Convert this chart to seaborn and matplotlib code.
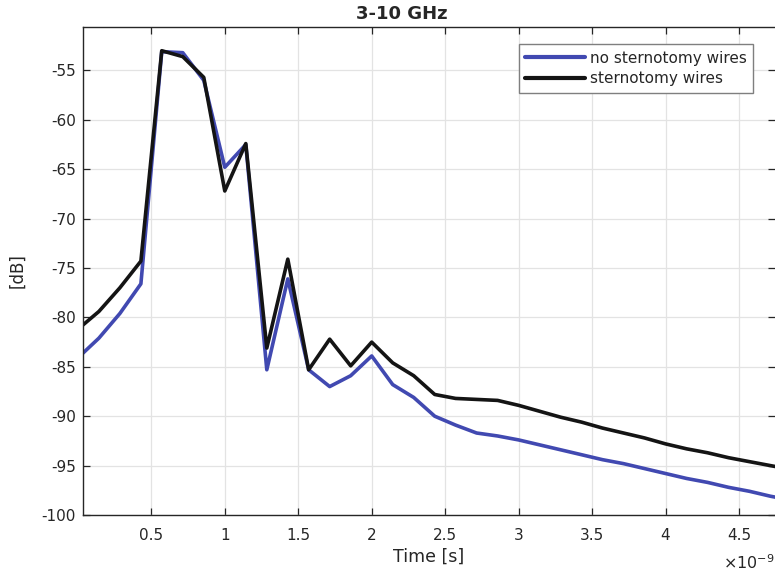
import matplotlib
matplotlib.use("Agg")
import matplotlib.pyplot as plt
import seaborn as sns
import pandas as pd
from matplotlib.ticker import FuncFormatter

# ---- data (time in ns; axis shows x10^-9 s) ----
time_ns = [0.000, 0.143, 0.286, 0.429, 0.571, 0.714, 0.857, 1.000, 1.143, 1.286,
           1.429, 1.571, 1.714, 1.857, 2.000, 2.143, 2.286, 2.429, 2.571, 2.714,
           2.857, 3.000, 3.143, 3.286, 3.429, 3.571, 3.714, 3.857, 4.000, 4.143,
           4.286, 4.429, 4.571, 4.714, 4.857]
no_wires = [-84.1, -82.1, -79.6, -76.6, -53.1, -53.2, -56.0, -64.8, -62.5, -85.3,
            -76.1, -85.3, -87.0, -85.9, -83.9, -86.8, -88.1, -90.0, -90.9, -91.7,
            -92.0, -92.4, -92.9, -93.4, -93.9, -94.4, -94.8, -95.3, -95.8, -96.3,
            -96.7, -97.2, -97.6, -98.1, -98.5]
wires = [-81.2, -79.4, -77.0, -74.3, -53.0, -53.6, -55.7, -67.2, -62.4, -83.1,
         -74.1, -85.3, -82.2, -84.9, -82.5, -84.6, -85.9, -87.8, -88.2, -88.3,
         -88.4, -88.9, -89.5, -90.1, -90.6, -91.2, -91.7, -92.2, -92.8, -93.3,
         -93.7, -94.2, -94.6, -95.0, -95.4]
series_names = ["no sternotomy wires", "sternotomy wires"]
series_colors = ["#4149b1", "#141414"]
x_ticks = [0.5, 1, 1.5, 2, 2.5, 3, 3.5, 4, 4.5]
y_ticks = [-100, -95, -90, -85, -80, -75, -70, -65, -60, -55]
title = "3-10 GHz"
xlabel = "Time [s]"
ylabel = "[dB]"

df = pd.concat([
    pd.DataFrame({"t": time_ns, "dB": no_wires, "series": series_names[0]}),
    pd.DataFrame({"t": time_ns, "dB": wires, "series": series_names[1]}),
], ignore_index=True)

sns.set_theme(style="white")
plt.rcParams["font.family"] = ["DejaVu Sans"]

fig = plt.figure(figsize=(7.75, 5.73), dpi=100)
ax = fig.add_axes([83 / 775, 1 - 515 / 573, 1 - 83 / 775, (515 - 27) / 573])

sns.lineplot(data=df, x="t", y="dB", hue="series", hue_order=series_names,
             palette=series_colors, estimator=None, sort=False,
             linewidth=2.6, ax=ax, legend=False)

ax.set_xlim(0.035, 4.745)
ax.set_ylim(-100, -50.6)
ax.set_xticks(x_ticks)
ax.set_yticks(y_ticks)
ax.xaxis.set_major_formatter(FuncFormatter(lambda v, p: f"{v:g}"))
ax.yaxis.set_major_formatter(FuncFormatter(lambda v, p: f"{v:g}"))

ax.grid(True, color="#e3e3e3", linewidth=0.9)
ax.set_axisbelow(True)
for s in ["left", "bottom", "top"]:
    ax.spines[s].set_color("#262626")
    ax.spines[s].set_linewidth(1.0)
    ax.spines[s].set_visible(True)
ax.spines["right"].set_visible(False)

ax.tick_params(axis="both", which="major", direction="in", length=5, width=0.9,
               color="#262626", labelsize=11, labelcolor="#262626",
               top=True, right=True, bottom=True, left=True)
ax.tick_params(axis="x", pad=9)
ax.tick_params(axis="y", pad=5)

ax.set_xlabel(xlabel, fontsize=12.5, color="#262626", labelpad=4)
ax.set_ylabel(ylabel, fontsize=12, color="#262626", labelpad=11)
ax.set_title(title, fontsize=13, fontweight="bold", color="#262626", x=0.461, pad=6)

# offset text like MATLAB
fig.text(723 / 775, 1 - 563 / 573, r"$\times10^{-9}$", fontsize=11.5,
         color="#262626", ha="left", va="center")

handles = [plt.Line2D([], [], color=c, linewidth=3) for c in series_colors]
leg = ax.legend(handles, series_names, loc="upper right",
                bbox_to_anchor=(0.9686, 0.9645), borderaxespad=0,
                fontsize=11, handlelength=3.9, handletextpad=0.35,
                labelspacing=0.35, borderpad=0.42, fancybox=False,
                framealpha=1, edgecolor="#7f7f7f")
leg.get_frame().set_linewidth(1.0)
for t in leg.get_texts():
    t.set_color("#262626")

fig.savefig("out.png", dpi=100)
